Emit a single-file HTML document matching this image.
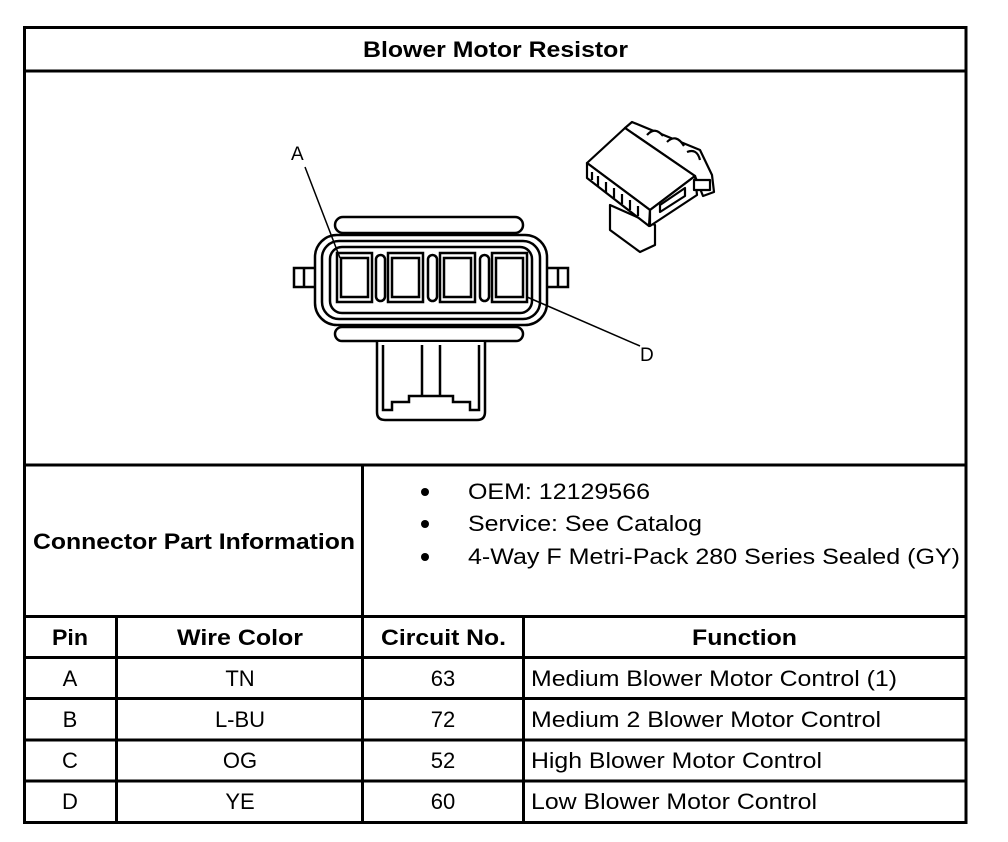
<!DOCTYPE html>
<html><head><style>
html,body{margin:0;padding:0;background:#fff;}
svg{display:block;}
text{font-family:"Liberation Sans",Arial,sans-serif;fill:#000;}
</style></head><body>
<svg width="1008" height="842" viewBox="0 0 1008 842" xmlns="http://www.w3.org/2000/svg">
<g stroke="#000" stroke-width="3" fill="none">
<rect x="24.5" y="27.5" width="941.5" height="795"/>
<line x1="24" y1="71" x2="966" y2="71"/>
<line x1="24" y1="465" x2="966" y2="465"/>
<line x1="24" y1="616.5" x2="966" y2="616.5"/>
<line x1="24" y1="657.5" x2="966" y2="657.5"/>
<line x1="24" y1="698.5" x2="966" y2="698.5"/>
<line x1="24" y1="740" x2="966" y2="740"/>
<line x1="24" y1="781" x2="966" y2="781"/>
<line x1="362.5" y1="465" x2="362.5" y2="822"/>
<line x1="116.5" y1="616" x2="116.5" y2="822"/>
<line x1="523.5" y1="616" x2="523.5" y2="822"/>
</g>
<g font-size="22" font-weight="bold">
<text x="363" y="57" textLength="265" lengthAdjust="spacingAndGlyphs">Blower Motor Resistor</text>
<text x="33" y="549" textLength="322" lengthAdjust="spacingAndGlyphs">Connector Part Information</text>
<text x="52" y="645" textLength="36" lengthAdjust="spacingAndGlyphs">Pin</text>
<text x="177" y="645" textLength="126" lengthAdjust="spacingAndGlyphs">Wire Color</text>
<text x="381" y="645" textLength="125" lengthAdjust="spacingAndGlyphs">Circuit No.</text>
<text x="692" y="645" textLength="105" lengthAdjust="spacingAndGlyphs">Function</text>
</g>
<g font-size="22">
<circle cx="425" cy="492" r="4"/><circle cx="425" cy="524" r="4"/><circle cx="425" cy="557" r="4"/>
<text x="468" y="499" textLength="182" lengthAdjust="spacingAndGlyphs">OEM: 12129566</text>
<text x="468" y="531" textLength="234" lengthAdjust="spacingAndGlyphs">Service: See Catalog</text>
<text x="468" y="564" textLength="492" lengthAdjust="spacingAndGlyphs">4-Way F Metri-Pack 280 Series Sealed (GY)</text>
<text x="531" y="686" textLength="366" lengthAdjust="spacingAndGlyphs">Medium Blower Motor Control (1)</text>
<text x="531" y="727" textLength="350" lengthAdjust="spacingAndGlyphs">Medium 2 Blower Motor Control</text>
<text x="531" y="768" textLength="291" lengthAdjust="spacingAndGlyphs">High Blower Motor Control</text>
<text x="531" y="809" textLength="286" lengthAdjust="spacingAndGlyphs">Low Blower Motor Control</text>
</g>
<g font-size="22" text-anchor="middle">
<text x="70" y="686">A</text><text x="240" y="686">TN</text><text x="443" y="686">63</text>
<text x="70" y="727">B</text><text x="240" y="727">L-BU</text><text x="443" y="727">72</text>
<text x="70" y="768">C</text><text x="240" y="768">OG</text><text x="443" y="768">52</text>
<text x="70" y="809">D</text><text x="240" y="809">YE</text><text x="443" y="809">60</text>
</g>
<!-- connector drawing -->
<g stroke="#000" stroke-width="2.5" fill="#fff">
<rect x="335" y="217" width="188" height="16" rx="8"/>
<rect x="335" y="327" width="188" height="14" rx="7"/>
<path d="M377 342 V412 Q377 420 385 420 H477 Q485 420 485 412 V342"/>
<path d="M383 345 V410 H392 V402 H409 V396 H453 V402 H470 V410 H479 V345"/>
<path d="M422 345 V396 M440 345 V396" fill="none"/>
<rect x="294" y="268" width="22" height="19"/><line x1="304" y1="268" x2="304" y2="287"/>
<rect x="546" y="268" width="22" height="19"/><line x1="558" y1="268" x2="558" y2="287"/>
<rect x="315" y="235" width="232" height="90" rx="22"/>
<rect x="322" y="241" width="218" height="78" rx="17"/>
<rect x="330" y="247" width="202" height="66" rx="12"/>
<rect x="337" y="253" width="35" height="49"/><rect x="341" y="258" width="27" height="39"/>
<rect x="388" y="253" width="35" height="49"/><rect x="392" y="258" width="27" height="39"/>
<rect x="440" y="253" width="35" height="49"/><rect x="444" y="258" width="27" height="39"/>
<rect x="492" y="253" width="35" height="49"/><rect x="496" y="258" width="27" height="39"/>
<rect x="376" y="255" width="9" height="46" rx="4.5"/>
<rect x="428" y="255" width="9" height="46" rx="4.5"/>
<rect x="480" y="255" width="9" height="46" rx="4.5"/>
</g>
<g stroke="#000" stroke-width="1.5">
<line x1="305" y1="167" x2="340" y2="258"/>
<line x1="527" y1="297" x2="640" y2="346"/>
</g>
<text x="291" y="160" font-size="19">A</text>
<text x="640" y="361" font-size="19">D</text>
<!-- small 3D connector -->
<g stroke="#000" stroke-width="2.2" fill="#fff" stroke-linejoin="round">
<path d="M625 128 L632 122 L700 150 L712 175 L714 192 L703 196 L695 176 Z"/>
<path d="M647 135 Q655 126 663 136 M667 142 Q676 133 684 146 M687 152 Q697 148 700 160"/>
<path d="M610 205 L610 230 L640 252 L655 245 L655 225 Z"/>
<path d="M587 163 L625 128 L695 176 L650 210 Z"/>
<path d="M587 163 L587 178 L649 226 L650 210 Z"/>
<path d="M650 210 L695 176 L697 195 L650 226 Z"/>
<rect x="694" y="180" width="16" height="10"/>
<path d="M592 172 V180 M598 176 V186 M606 182 V192 M614 188 V198 M622 194 V204 M630 200 V210 M638 206 V216" fill="none"/>
<path d="M660 205 L685 188 L685 196 L660 212 Z"/>
</g>
</svg>
</body></html>
